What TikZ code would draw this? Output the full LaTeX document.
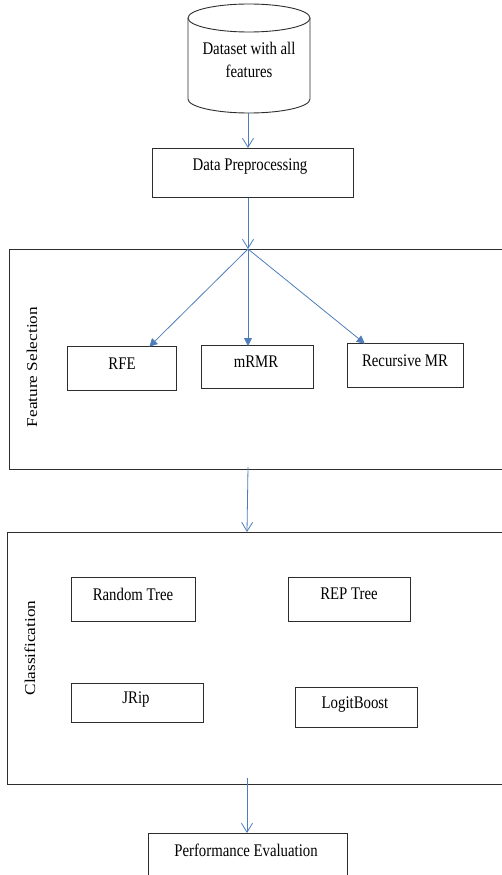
\documentclass[tikz,border=0pt]{standalone}
\usepackage{fontspec}
\usepackage{graphicx}
\setmainfont{Liberation Serif}
\usetikzlibrary{arrows.meta}
\definecolor{arrowblue}{RGB}{79,125,185}
\definecolor{boxline}{RGB}{45,45,45}
\newcommand\vtx[1]{\scalebox{1}[1.2]{#1}}
\newcommand\htx[1]{\scalebox{1.15}[1]{#1}}
\tikzset{
  box/.style={draw=boxline, line width=0.9pt, fill=white, rectangle, inner sep=0pt, anchor=north west},
  lbl/.style={font=\fontsize{14.8}{17}\selectfont, inner sep=0pt},
  sidelbl/.style={font=\fontsize{15}{18}\selectfont, rotate=90, inner sep=0pt},
  openarrow/.style={draw=arrowblue, line width=0.8pt, -{Straight Barb[length=9pt,width=11pt,line width=0.8pt]}},
  fillarrow/.style={draw=arrowblue, line width=0.8pt, -{Triangle[length=8pt,width=8pt]}, shorten >=-1pt},
  group/.style={draw=boxline, line width=1pt}
}
\begin{document}
\begin{tikzpicture}[x=1pt,y=-1pt]
\useasboundingbox (0,0) rectangle (502,875);
\clip (0,0) rectangle (502,875);
% cylinder
\draw[boxline, line width=0.9pt, fill=white] (188,18) -- (188,99) arc[start angle=180,end angle=0,x radius=61,y radius=14] -- (310,18);
\draw[boxline, line width=0.9pt, fill=white] (249,18) ellipse[x radius=61,y radius=14];
\node[lbl, align=center] (ds) at (249,60) {\vtx{Dataset with all}\\[6pt]\vtx{features}};
\coordinate (dsb) at (248,113);
% data preprocessing
\node[box, minimum width=201pt, minimum height=49pt] (dp) at (152,148) {};
\node[lbl] (dpt) at (250,167) {\vtx{Data Preprocessing}};
% feature selection group
\draw[group] (506,249) -- (9,249) -- (9,469) -- (506,469);
\coordinate (fstop) at (248,249);
\coordinate (fsbot) at (248,467);
\node[sidelbl] (fsl) at (32,367) {\htx{Feature Selection}};
\node[box, minimum width=109pt, minimum height=44pt] (rfe) at (67,346) {};
\node[lbl] (rfet) at (122,364) {\vtx{RFE}};
\node[box, minimum width=112pt, minimum height=43pt] (mrmr) at (201,345) {};
\node[lbl] (mrmrt) at (256,362) {\vtx{mRMR}};
\node[box, minimum width=116pt, minimum height=44pt] (rmr) at (347,343) {};
\node[lbl] (rmrt) at (405,361) {\vtx{Recursive MR}};
% classification group
\draw[group] (506,532) -- (7,532) -- (7,784) -- (506,784);
\coordinate (cltop) at (247,532);
\coordinate (clbot) at (247,778);
\node[sidelbl] (cll) at (30,648) {\htx{Classification}};
\node[box, minimum width=124pt, minimum height=44pt] (rt) at (71,577) {};
\node[lbl] (rtt) at (133,594) {\vtx{Random Tree}};
\node[box, minimum width=122pt, minimum height=44pt] (rep) at (288,577) {};
\node[lbl] (rept) at (349,594) {\vtx{REP Tree}};
\node[box, minimum width=132pt, minimum height=39pt] (jrip) at (71,683) {};
\node[lbl] (jript) at (136,700) {\vtx{JRip}};
\node[box, minimum width=122pt, minimum height=40pt] (lb) at (295,687) {};
\node[lbl] (lbt) at (355,705) {\vtx{LogitBoost}};
% performance evaluation
\node[box, minimum width=199pt, minimum height=60pt] (pe) at (148,833) {};
\node[lbl] (pet) at (246,850) {\vtx{Performance Evaluation}};
% connectors
\draw[openarrow] (dsb) -- (dp.north -| dsb);
\draw[openarrow] (dp.south -| fstop) -- (fstop);
\draw[fillarrow] (fstop) -- (150,346);
\draw[fillarrow] (fstop) -- (248,345);
\draw[fillarrow] (fstop) -- (364,343);
\draw[openarrow] (fsbot) -- (cltop);
\draw[openarrow] (clbot) -- (pe.north -| clbot);
\end{tikzpicture}
\end{document}
